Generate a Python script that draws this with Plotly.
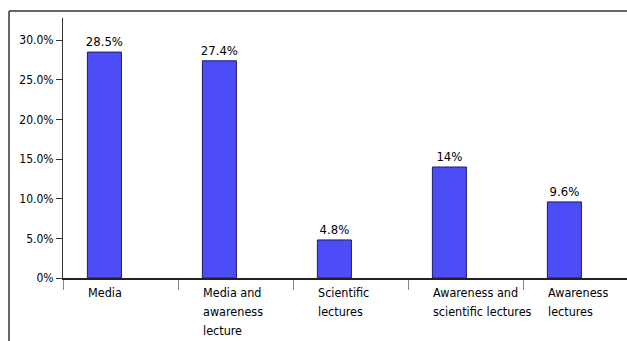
import plotly.graph_objects as go

categories = ["Media", "Media and<br>awareness<br>lecture", "Scientific<br>lectures",
              "Awareness and<br>scientific lectures", "Awareness<br>lectures"]
values = [28.5, 27.4, 4.8, 14.0, 9.6]
value_labels = ["28.5%", "27.4%", "4.8%", "14%", "9.6%"]
y_ticks = [0, 5, 10, 15, 20, 25, 30]
y_tick_labels = ["0%", "5.0%", "10.0%", "15.0%", "20.0%", "25.0%", "30.0%"]

FONT = "DejaVu Sans Condensed, sans-serif"
BAR_OFFSET = 0.36
BAR_WIDTH = 0.296
xpos = [i + BAR_OFFSET for i in range(len(categories))]

fig = go.Figure()
fig.add_trace(go.Bar(
    x=xpos, y=values, width=BAR_WIDTH,
    marker=dict(color="#4D4DF7", line=dict(color="#1c1c6a", width=1)),
    text=value_labels, textposition="outside", cliponaxis=False,
    constraintext="none",
    textfont=dict(family=FONT, size=13, color="black"),
))

for xp, lab in zip(xpos, categories):
    styled = "<br>".join(f"<span style='font-size:12.5px'>{ln}</span>" for ln in lab.split("<br>"))
    fig.add_annotation(x=xp - BAR_WIDTH / 2 - 0.01, y=-0.02, xref="x", yref="paper",
                       text=styled, showarrow=False, xanchor="left", yanchor="top",
                       align="left", font=dict(family=FONT, size=14.6, color="black"))

# outer frame lines
fig.add_shape(type="line", xref="paper", yref="paper", x0=-0.0957, x1=1.0, y0=1.027, y1=1.027,
              line=dict(color="#333", width=1.5))
fig.add_shape(type="line", xref="paper", yref="paper", x0=-0.0957, x1=-0.0957, y0=1.027, y1=-0.25,
              line=dict(color="#333", width=1.5))

fig.update_layout(
    width=627, height=341,
    margin=dict(l=63, r=0, t=18, b=63),
    paper_bgcolor="white", plot_bgcolor="white",
    showlegend=False,
    xaxis=dict(range=[0, 564 / 115], tickvals=list(range(len(categories))),
               ticktext=[""] * len(categories), ticks="outside", ticklen=10,
               tickcolor="#888", showline=True, linecolor="#222", linewidth=1.5,
               showgrid=False, zeroline=False),
    yaxis=dict(range=[0, 32.8], tickvals=y_ticks, ticktext=y_tick_labels,
               ticks="outside", ticklen=6, tickcolor="#333", showline=True,
               linecolor="#333", linewidth=1, showgrid=False, zeroline=False,
               tickfont=dict(family=FONT, size=12, color="black")),
)

fig.write_html("out.html")
